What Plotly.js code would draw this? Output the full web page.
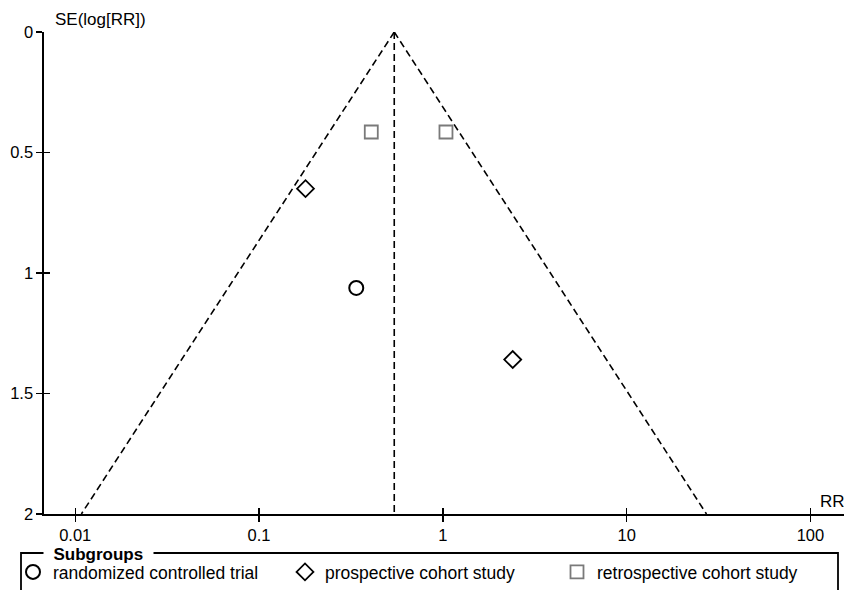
<!DOCTYPE html>
<html>
<head>
<meta charset="utf-8">
<script src="https://cdn.plot.ly/plotly-3.0.1.min.js"></script>
<style>html,body{margin:0;padding:0;background:#fff;}#chart{width:844px;height:590px;}</style>
</head>
<body>
<div id="chart"></div>
<script>
// Data
var rctRR = [0.338];
var rctSE = [1.062];
var prospRR = [0.179, 2.40];
var prospSE = [0.650, 1.359];
var retroRR = [0.408, 1.04];
var retroSE = [0.415, 0.415];
var pooledRR = [0.544, 0.544];
var funnelSE = [0, 2];
var funnelLeftRR = [0.544, 0.0108];
var funnelRightRR = [0.544, 27.2];
var xTickVals = [0.01, 0.1, 1, 10, 100];
var xTickText = ['0.01', '0.1', '1', '10', '100'];
var yTickVals = [0, 0.5, 1, 1.5, 2];
var seriesNames = ['randomized controlled trial', 'prospective cohort study', 'retrospective cohort study'];

var FONT = 'Liberation Sans, Arial, sans-serif';
var dashPat = '7px,4px';

var traces = [
  {x: funnelLeftRR, y: funnelSE, mode: 'lines', line: {color: '#000', width: 1.6, dash: dashPat}, showlegend: false, hoverinfo: 'skip'},
  {x: funnelRightRR, y: funnelSE, mode: 'lines', line: {color: '#000', width: 1.6, dash: dashPat}, showlegend: false, hoverinfo: 'skip'},
  {x: pooledRR, y: funnelSE, mode: 'lines', line: {color: '#000', width: 1.6, dash: dashPat}, showlegend: false, hoverinfo: 'skip', xaxis: 'x2', yaxis: 'y2'},
  {x: rctRR, y: rctSE, mode: 'markers', name: seriesNames[0], marker: {symbol: 'circle-open', size: 14, color: '#000', line: {color: '#000', width: 2}}},
  {x: prospRR, y: prospSE, mode: 'markers', name: seriesNames[1], marker: {symbol: 'diamond-open', size: 13, color: '#000', line: {color: '#000', width: 1.8}}},
  {x: retroRR, y: retroSE, mode: 'markers', name: seriesNames[2], marker: {symbol: 'square-open', size: 13, color: '#7a7a7a', line: {color: '#7a7a7a', width: 1.8}}}
];

var xr = [-2.170, 2.1826];
var layout = {
  width: 844, height: 590,
  margin: {l: 44, r: 0, t: 32, b: 76, autoexpand: false},
  paper_bgcolor: '#fff', plot_bgcolor: '#fff',
  font: {family: FONT, size: 16, color: '#000'},
  showlegend: true,
  xaxis: {type: 'log', range: xr, tickvals: xTickVals, ticktext: xTickText, ticks: 'outside', ticklen: 6, tickwidth: 1.5, tickcolor: '#000',
          showline: true, linecolor: '#000', linewidth: 1.6, showgrid: false, zeroline: false, tickfont: {size: 16.5}, fixedrange: true},
  yaxis: {range: [2, 0], tickvals: yTickVals, ticks: 'outside', ticklen: 6, tickwidth: 1.5, tickcolor: '#000',
          showline: true, linecolor: '#000', linewidth: 1.6, showgrid: false, zeroline: false, tickfont: {size: 16.5}, fixedrange: true},
  xaxis2: {type: 'log', range: xr, overlaying: 'x', tickvals: xTickVals, ticks: 'inside', ticklen: 6, tickwidth: 1.5, tickcolor: '#000',
           showticklabels: false, showline: false, showgrid: false, zeroline: false, fixedrange: true},
  yaxis2: {range: [2, 0], overlaying: 'y', tickvals: yTickVals, ticks: 'inside', ticklen: 6, tickwidth: 1.5, tickcolor: '#000',
           showticklabels: false, showline: false, showgrid: false, zeroline: false, fixedrange: true},
  legend: {orientation: 'h', x: -0.03875, xanchor: 'left', y: -0.083, yanchor: 'top',
           font: {size: 17.5, family: FONT}, bgcolor: 'rgba(0,0,0,0)', borderwidth: 0, entrywidth: 227, traceorder: 'normal'},
  shapes: [
    {type: 'rect', xref: 'paper', yref: 'paper', x0: -0.02875, x1: 0.9925, y0: -0.0809, y1: -0.2, line: {color: '#000', width: 1.8}, fillcolor: 'rgba(0,0,0,0)', layer: 'above'}
  ],
  annotations: [
    {text: 'SE(log[RR])', xref: 'paper', yref: 'paper', x: 0.01125, y: 1, xanchor: 'left', yanchor: 'bottom', yshift: 1, showarrow: false, font: {size: 17}},
    {text: 'RR', xref: 'paper', yref: 'paper', x: 0.9675, y: 0, xanchor: 'left', yanchor: 'bottom', yshift: 1, showarrow: false, font: {size: 17}},
    {text: '\u00a0\u00a0<b>Subgroups</b>\u00a0\u00a0', xref: 'paper', yref: 'paper', x: -0.00125, y: -0.083, xanchor: 'left', yanchor: 'middle', showarrow: false,
     bgcolor: '#fff', borderpad: 0, font: {size: 17}}
  ]
};

Plotly.newPlot('chart', traces, layout, {displayModeBar: false, staticPlot: true});
</script>
</body>
</html>
